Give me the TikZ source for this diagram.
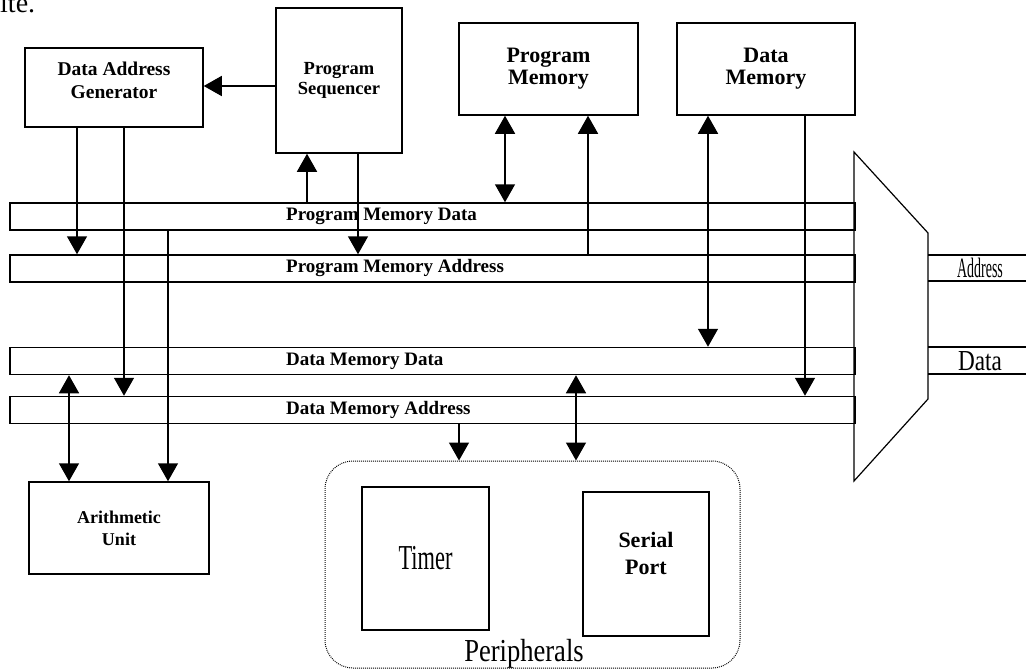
\documentclass[tikz,border=0pt]{standalone}
\usepackage{fontspec}
\setmainfont{Liberation Serif}
\usetikzlibrary{arrows.meta}

\tikzset{
  blk/.style={draw, line width=1.5pt, inner sep=0pt, align=center},
  bus/.style={draw, line width=1.5pt, minimum width=845pt, minimum height=27pt, inner sep=0pt},
  buslbl/.style={anchor=west, inner sep=0pt, font=\bfseries\fontsize{19}{21}\selectfont},
  arr/.style={line width=1.5pt, -{Triangle[width=20pt,length=18pt]}},
  darr/.style={line width=1.5pt, {Triangle[width=20pt,length=18pt]}-{Triangle[width=20pt,length=18pt]}}
}

\begin{document}
\begin{tikzpicture}[x=1pt, y=-1pt]

    % 0. Frame of the picture
    \useasboundingbox (0,0) rectangle (1026,672);
    \node[anchor=base west, inner sep=0pt, font=\fontsize{28}{30}\selectfont] (frag) at (0,12) {ite.};

    % 1. Top row of blocks
    \node[blk, minimum width=178pt, minimum height=79pt, text depth=14pt, font=\bfseries\fontsize{19.5}{23}\selectfont]
        (dag) at (114,87.5) {Data Address\\Generator};
    \node[blk, minimum width=126pt, minimum height=145pt, font=\bfseries\fontsize{18.5}{20}\selectfont]
        (ps) at (339,80.5) {Program\\Sequencer};
    \node[blk, minimum width=179pt, minimum height=92pt, font=\bfseries\fontsize{22}{22}\selectfont]
        (pm) at (548.5,69) {Program\\Memory};
    \node[blk, minimum width=178pt, minimum height=92pt, font=\bfseries\fontsize{22}{22}\selectfont]
        (dm) at (766,69) {Data\\Memory};

    % 2. The four buses
    \node[bus] (pmd) at (432.5,216.5) {};
    \node[bus] (pma) at (432.5,268.5) {};
    \node[bus] (dmd) at (432.5,361) {};
    \node[bus] (dma) at (432.5,410) {};
    \node[buslbl] (pmdl) at (286,216.5) {Program Memory Data};
    \node[buslbl] (pmal) at (286,268.5) {Program Memory Address};
    \node[buslbl] (dmdl) at (286,361) {Data Memory Data};
    \node[buslbl] (dmal) at (286,410) {Data Memory Address};

    % 3. Bottom blocks
    \node[blk, minimum width=180pt, minimum height=92pt, font=\bfseries\fontsize{18}{22}\selectfont]
        (au) at (119,528) {Arithmetic\\Unit};
    \node[draw, line width=1pt, dash pattern=on 0.9pt off 1.1pt, rounded corners=28pt,
          minimum width=415pt, minimum height=207pt, inner sep=0pt] (peri) at (532.5,564.5) {};
    \node[blk, minimum width=127pt, minimum height=143pt, font=\fontsize{35}{35}\selectfont]
        (tmr) at (425.5,558.5) {\scalebox{0.64}[1]{Timer}};
    \node[blk, minimum width=126pt, minimum height=144pt, text depth=21pt, font=\bfseries\fontsize{22}{27}\selectfont]
        (sp) at (646,564) {Serial\\Port};
    \node[inner sep=0pt, font=\fontsize{32}{32}\selectfont] (peril) at (524,654) {\scalebox{0.83}[1]{Peripherals}};

    % 4. Multiplexer and the outside buses
    \coordinate (mxa) at (854,152);
    \coordinate (mxb) at (928,233);
    \coordinate (mxc) at (928,399);
    \coordinate (mxd) at (854,481);
    \draw[line width=1.2pt] (mxa) -- (mxb) -- (mxc) -- (mxd) -- cycle;
    \draw[line width=1.2pt] (928,255) -- (1026,255);
    \draw[line width=1.2pt] (928,281) -- (1026,281);
    \draw[line width=1.2pt] (928,347) -- (1026,347);
    \draw[line width=1.2pt] (928,374) -- (1026,374);
    \node[inner sep=0pt, font=\fontsize{28}{28}\selectfont] (adrl) at (980,268) {\scalebox{0.5}[1]{Address}};
    \node[inner sep=0pt, font=\fontsize{29}{29}\selectfont] (datl) at (980,361) {\scalebox{0.8}[1]{Data}};

    % 5. Columns of the connectors
    \coordinate (c1) at (77,0);
    \coordinate (c2) at (124,0);
    \coordinate (c3) at (168,0);
    \coordinate (c4) at (69,0);
    \coordinate (c5) at (307,0);
    \coordinate (c6) at (358,0);
    \coordinate (c7) at (505,0);
    \coordinate (c8) at (588,0);
    \coordinate (c9) at (708,0);
    \coordinate (c10) at (805,0);
    \coordinate (c11) at (459,0);
    \coordinate (c12) at (576,0);
    \coordinate (r1) at (0,86);

    % 6. Connectors
    \draw[arr] (ps.west |- r1) -- (dag.east |- r1);
    \draw[arr] (dag.south -| c1) -- (pma.north -| c1);
    \draw[arr] (dag.south -| c2) -- (dma.north -| c2);
    \draw[arr] (pmd.south -| c3) -- (au.north -| c3);
    \draw[darr] (dmd.south -| c4) -- (au.north -| c4);
    \draw[arr] (pmd.north -| c5) -- (ps.south -| c5);
    \draw[arr] (ps.south -| c6) -- (pma.north -| c6);
    \draw[darr] (pm.south -| c7) -- (pmd.north -| c7);
    \draw[arr] (pma.north -| c8) -- (pm.south -| c8);
    \draw[darr] (dm.south -| c9) -- (dmd.north -| c9);
    \draw[arr] (dm.south -| c10) -- (dma.north -| c10);
    \draw[arr] (dma.south -| c11) -- (peri.north -| c11);
    \draw[darr] (dmd.south -| c12) -- (peri.north -| c12);

\end{tikzpicture}
\end{document}
